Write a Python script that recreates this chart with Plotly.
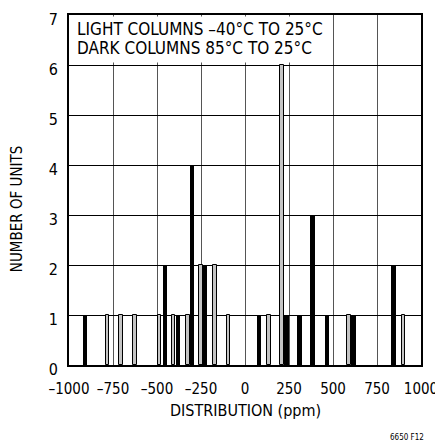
import plotly.graph_objects as go

# Données (ppm, nombre d'unités)
light_ppm = [-780, -705, -625, -485, -405, -325, -250, -170, -95, 135, 210, 590, 900]
light_count = [1, 1, 1, 1, 1, 1, 2, 2, 1, 1, 6, 1, 1]

dark_ppm = [-910, -455, -380, -300, -230, 80, 235, 310, 385, 465, 615, 845]
dark_count = [1, 2, 1, 4, 2, 1, 1, 1, 3, 1, 1, 2]

x_ticks = [-1000, -750, -500, -250, 0, 250, 500, 750, 1000]
x_ticktext = ["–1000", "–750", "–500", "–250", "0", "250", "500", "750", "1000"]
y_ticks = [0, 1, 2, 3, 4, 5, 6, 7]

FONT = "Liberation Sans Narrow, Arial Narrow, DejaVu Sans Condensed, sans-serif"

fig = go.Figure()

# Colonnes claires (-40°C à 25°C)
fig.add_trace(go.Bar(
    x=light_ppm, y=light_count, width=20,
    marker=dict(color="#c4c4c4", line=dict(color="black", width=1)),
    showlegend=False,
))

# Colonnes foncées (85°C à 25°C)
fig.add_trace(go.Bar(
    x=dark_ppm, y=dark_count, width=26,
    marker=dict(color="black", line=dict(width=0)),
    showlegend=False,
))

# Cadre blanc pour le texte en haut à gauche
fig.add_shape(type="rect", xref="x", yref="y", x0=-997, x1=496, y0=6.05, y1=6.97,
              fillcolor="white", line=dict(width=0), layer="between")

fig.add_annotation(text="LIGHT COLUMNS –40°C TO 25°C", xref="paper", yref="paper",
                   x=0.016, y=0.96, xanchor="left", yanchor="middle", showarrow=False,
                   font=dict(family=FONT, size=17, color="black"))
fig.add_annotation(text="DARK COLUMNS 85°C TO 25°C", xref="paper", yref="paper",
                   x=0.016, y=0.906, xanchor="left", yanchor="middle", showarrow=False,
                   font=dict(family=FONT, size=17, color="black"))

# Titres des axes
fig.add_annotation(text="NUMBER OF UNITS", xref="paper", yref="paper",
                   x=-0.147, y=0.446, textangle=-90, showarrow=False,
                   xanchor="center", yanchor="middle",
                   font=dict(family=FONT, size=15, color="black"))
fig.add_annotation(text="DISTRIBUTION (ppm)", xref="paper", yref="paper",
                   x=0.5, y=-0.131, showarrow=False, xanchor="center", yanchor="middle",
                   font=dict(family=FONT, size=16, color="black"))
fig.add_annotation(text="6650 F12", xref="paper", yref="paper",
                   x=0.96, y=-0.206, showarrow=False, xanchor="center", yanchor="middle",
                   font=dict(family=FONT, size=8, color="black"))

# la page ajoute une marge de 8 px : on réduit la figure d'autant
fig.update_layout(
    width=435, height=440,
    margin=dict(l=61, r=22, t=7, b=83),
    paper_bgcolor="white", plot_bgcolor="white",
    barmode="overlay", bargap=0,
    font=dict(family=FONT, size=16, color="black"),
)

fig.update_xaxes(
    range=[-1000, 1000], tickvals=x_ticks, ticktext=x_ticktext,
    showgrid=True, gridcolor="#555", gridwidth=1, zeroline=False,
    showline=True, linecolor="black", linewidth=2, mirror=True,
    ticks="", ticklabelstandoff=9, automargin=False, ticklabeloverflow="allow",
    tickfont=dict(family=FONT, size=15),
)
fig.update_yaxes(
    range=[0, 7], tickvals=y_ticks,
    showgrid=True, gridcolor="black", gridwidth=1, zeroline=False,
    showline=True, linecolor="black", linewidth=2, mirror=True,
    ticks="", ticklabelstandoff=6, ticklabelshift=4,
    automargin=False, ticklabeloverflow="allow",
    tickfont=dict(family=FONT, size=16),
)

fig.write_html("out.html")
